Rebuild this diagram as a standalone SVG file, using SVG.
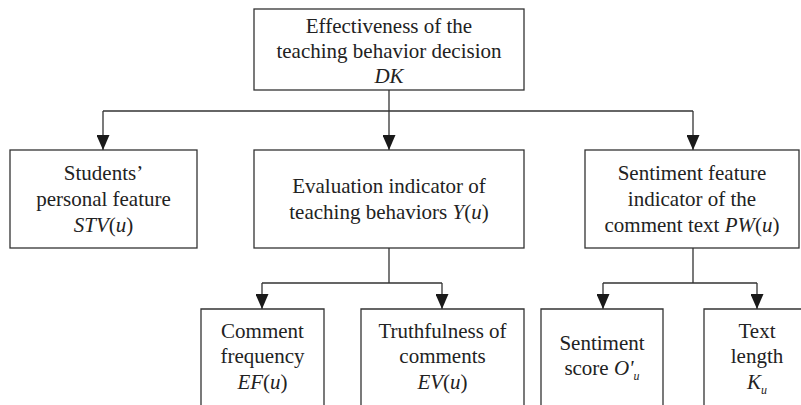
<svg xmlns="http://www.w3.org/2000/svg" width="801" height="405" viewBox="0 0 801 405">
<style>
.box{fill:#fff;stroke:#333;stroke-width:1.3}
.ln{fill:none;stroke:#333;stroke-width:1.3}
text{font-family:"Liberation Serif","Times New Roman",serif;font-size:21px;fill:#222;text-anchor:middle}
.i{font-style:italic}
.sub{font-style:italic;font-size:12px}
</style>
<defs>
<marker id="ah" viewBox="0 0 15 13" refX="15" refY="6.5" markerWidth="15" markerHeight="13" markerUnits="userSpaceOnUse" orient="auto">
<path d="M0,0 L15,6.5 L0,13 Z" fill="#1a1a1a"/>
</marker>
</defs>
<rect width="801" height="405" fill="#fff"/>
<g id="connectors">
<path class="ln" d="M389,90 V150" marker-end="url(#ah)"/>
<path class="ln" d="M103,111 H693"/>
<path class="ln" d="M103,111 V150" marker-end="url(#ah)"/>
<path class="ln" d="M693,111 V150" marker-end="url(#ah)"/>
<path class="ln" d="M389,248 V283 M262,283 H442"/>
<path class="ln" d="M262,283 V309" marker-end="url(#ah)"/>
<path class="ln" d="M442,283 V309" marker-end="url(#ah)"/>
<path class="ln" d="M693,248 V283 M603,283 H757"/>
<path class="ln" d="M603,283 V309" marker-end="url(#ah)"/>
<path class="ln" d="M757,283 V309" marker-end="url(#ah)"/>
</g>
<g id="n-dk">
<rect class="box" x="254" y="9" width="270" height="81"/>
<text x="389" y="33">Effectiveness of the</text>
<text x="389" y="58">teaching behavior decision</text>
<text x="389" y="83" class="i">DK</text>
</g>
<g id="n-stv">
<rect class="box" x="10" y="150" width="187" height="98"/>
<text x="103.5" y="180">Students’</text>
<text x="103.5" y="206">personal feature</text>
<text x="103.5" y="232"><tspan class="i">STV</tspan>(<tspan class="i">u</tspan>)</text>
</g>
<g id="n-y">
<rect class="box" x="254" y="150" width="270" height="98"/>
<text x="389" y="193">Evaluation indicator of</text>
<text x="389" y="219">teaching behaviors <tspan class="i">Y</tspan>(<tspan class="i">u</tspan>)</text>
</g>
<g id="n-pw">
<rect class="box" x="585" y="150" width="214" height="98"/>
<text x="692" y="180">Sentiment feature</text>
<text x="692" y="206">indicator of the</text>
<text x="692" y="232">comment text <tspan class="i">PW</tspan>(<tspan class="i">u</tspan>)</text>
</g>
<g id="n-ef">
<path class="box" d="M201,410 V309 H324 V410"/>
<text x="262.5" y="338">Comment</text>
<text x="262.5" y="363">frequency</text>
<text x="262.5" y="389"><tspan class="i">EF</tspan>(<tspan class="i">u</tspan>)</text>
</g>
<g id="n-ev">
<path class="box" d="M361,410 V309 H524 V410"/>
<text x="442.5" y="338">Truthfulness of</text>
<text x="442.5" y="363">comments</text>
<text x="442.5" y="389"><tspan class="i">EV</tspan>(<tspan class="i">u</tspan>)</text>
</g>
<g id="n-o">
<path class="box" d="M541,410 V309 H663 V410"/>
<text x="602" y="350">Sentiment</text>
<text x="602" y="375">score <tspan class="i">O'</tspan><tspan class="sub" dy="5">u</tspan></text>
</g>
<g id="n-k">
<path class="box" d="M704,410 V309 H812 V410"/>
<text x="757" y="338">Text</text>
<text x="757" y="363">length</text>
<text x="757" y="389"><tspan class="i">K</tspan><tspan class="sub" dy="5">u</tspan></text>
</g>
</svg>
